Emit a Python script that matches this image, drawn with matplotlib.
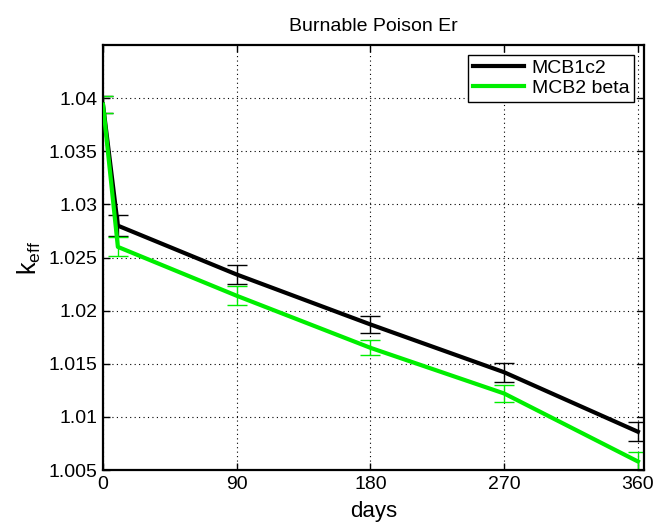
import matplotlib
matplotlib.use("Agg")
import matplotlib.pyplot as plt

plt.rcParams['font.family'] = ['Liberation Sans', 'DejaVu Sans']

# burnup steps (days)
days = [0, 10, 90, 180, 270, 360]

# k_eff values and errors
k_mcb1 = [1.0394, 1.0280, 1.0234, 1.0187, 1.0142, 1.0086]
err_mcb1 = [0.0008, 0.0010, 0.0009, 0.0008, 0.0009, 0.0009]
k_mcb2 = [1.0394, 1.0260, 1.0214, 1.0165, 1.0122, 1.0058]
err_mcb2 = [0.0008, 0.0009, 0.0009, 0.0007, 0.0008, 0.0009]

xticks = [0, 90, 180, 270, 360]
yticks = [1.005, 1.01, 1.015, 1.02, 1.025, 1.03, 1.035, 1.04]
ytick_labels = ['1.005', '1.01', '1.015', '1.02', '1.025', '1.03', '1.035', '1.04']

fig = plt.figure(figsize=(6.54, 5.30), dpi=100)
ax = fig.add_axes([0.1575, 0.1132, 0.827, 0.8018])

ax.plot(days, k_mcb1, color='black', lw=3.0, label='MCB1c2', zorder=3)
ax.plot(days, k_mcb2, color='#00ee00', lw=3.0, label='MCB2 beta', zorder=3)
ax.errorbar(days, k_mcb1, yerr=err_mcb1, fmt='none', ecolor='black',
            elinewidth=1.0, capsize=7, capthick=1.0, zorder=2)
ax.errorbar(days, k_mcb2, yerr=err_mcb2, fmt='none', ecolor='#00ee00',
            elinewidth=1.0, capsize=7, capthick=1.0, zorder=2)

ax.set_xlim(0, 364)
ax.set_ylim(1.005, 1.045)
ax.set_xticks(xticks)
ax.set_yticks(yticks)
ax.set_yticklabels(ytick_labels)
ax.tick_params(direction='in', top=True, right=True, labelsize=14,
               length=5, width=1.0, pad=4)
ax.grid(True, linestyle=(0, (1, 3)), color='black', linewidth=0.8)
for s in ax.spines.values():
    s.set_linewidth(1.6)

ax.set_title('Burnable Poison Er', fontsize=14, pad=10)
ax.set_xlabel('days', fontsize=16, labelpad=6)
ax.set_ylabel(r'k$_{\mathregular{eff}}$', fontsize=18, labelpad=4)

leg = ax.legend(loc='upper right', fontsize=14, fancybox=False,
                framealpha=1, edgecolor='black', handlelength=2.6,
                borderaxespad=0.5, borderpad=0.25, labelspacing=0.1,
                handletextpad=0.4)
leg.get_frame().set_linewidth(1.0)

fig.savefig('out.png', dpi=100)
